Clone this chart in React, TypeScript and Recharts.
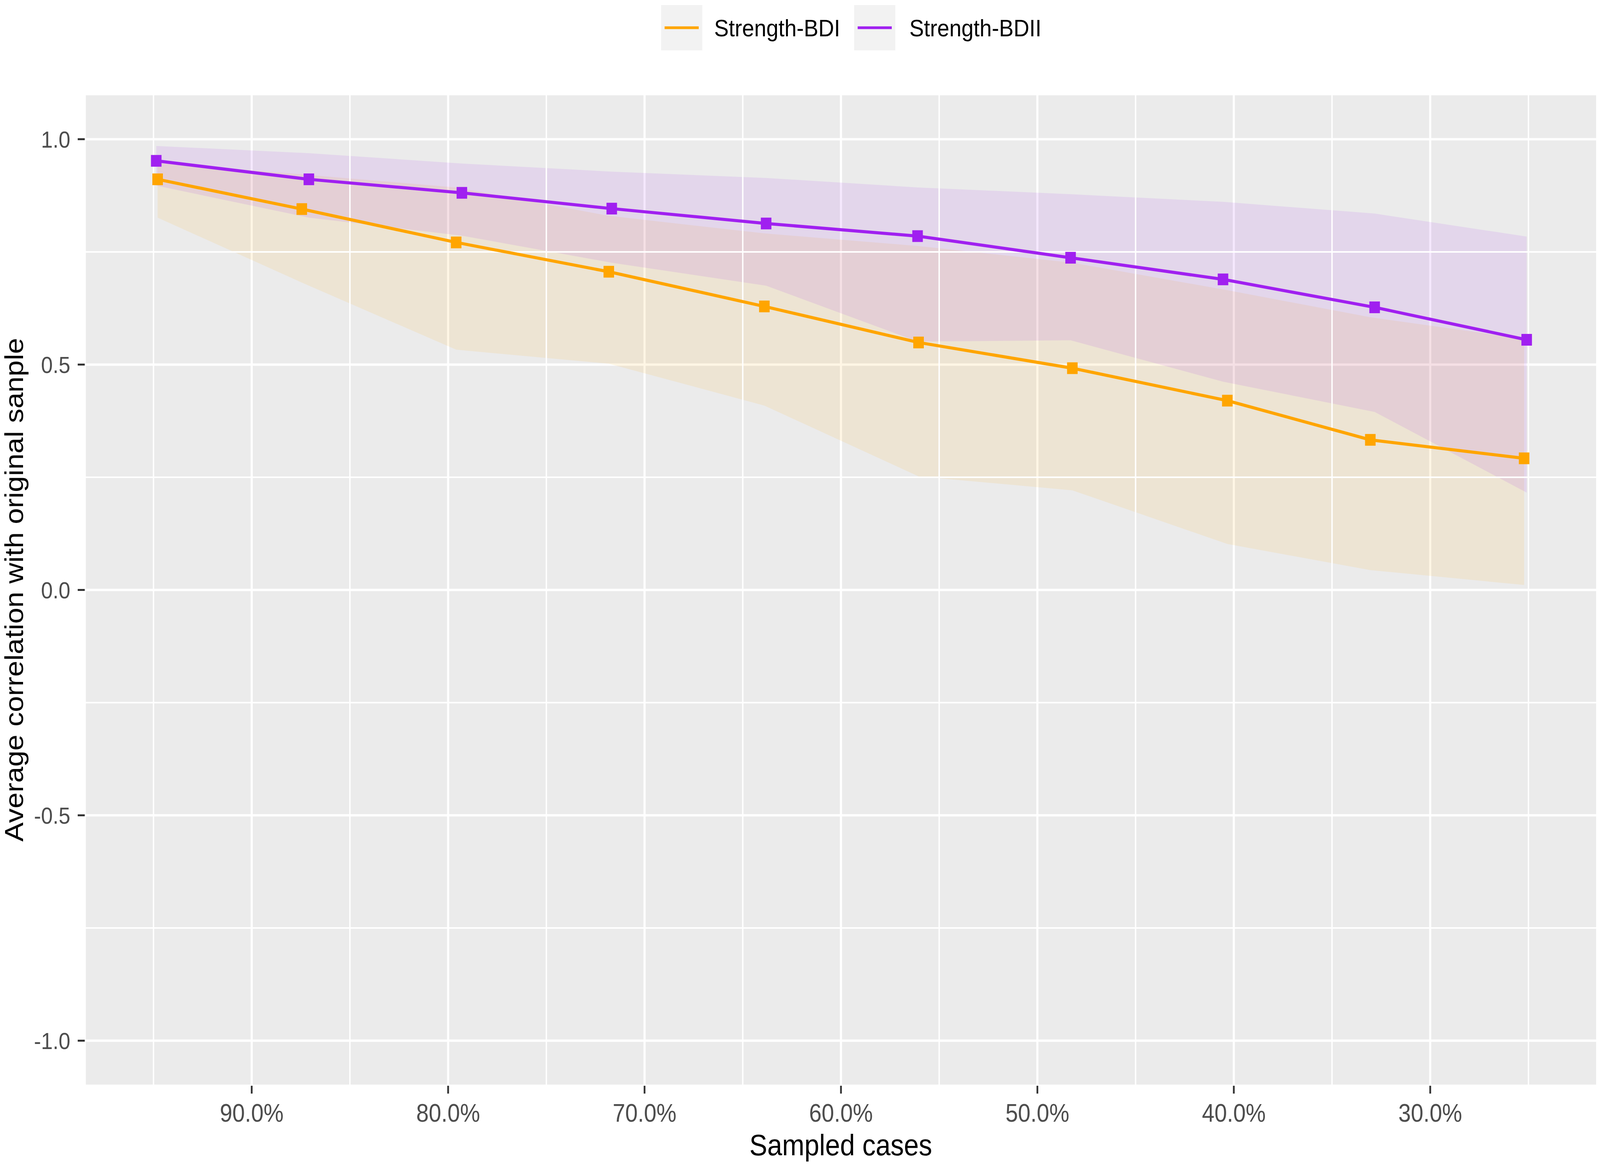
import React from "react";
import { ComposedChart, Line, Area, XAxis, YAxis, CartesianGrid, ReferenceLine } from "recharts";

// sampled share of cases (x) and correlation summaries per series
const sampledBDI = [94.79, 87.45, 79.59, 71.82, 63.9, 56.05, 48.22, 40.33, 33.05, 25.22];
const meanBDI = [0.911, 0.845, 0.771, 0.706, 0.629, 0.549, 0.492, 0.42, 0.333, 0.292];
const lowerBDI = [0.826, 0.682, 0.533, 0.502, 0.409, 0.252, 0.221, 0.102, 0.044, 0.011];
const upperBDI = [0.947, 0.922, 0.893, 0.83, 0.791, 0.763, 0.726, 0.665, 0.605, 0.557];

const sampledBDII = [94.86, 87.09, 79.3, 71.67, 63.81, 56.1, 48.31, 40.55, 32.83, 25.09];
const meanBDII = [0.952, 0.911, 0.881, 0.846, 0.813, 0.785, 0.737, 0.689, 0.627, 0.555];
const lowerBDII = [0.897, 0.826, 0.786, 0.726, 0.675, 0.551, 0.554, 0.462, 0.395, 0.216];
const upperBDII = [0.985, 0.969, 0.946, 0.928, 0.914, 0.893, 0.878, 0.861, 0.835, 0.784];

const xTicks = [90, 80, 70, 60, 50, 40, 30];
const xMinor = [95, 85, 75, 65, 55, 45, 35, 25];
const yTicks = [-1, -0.5, 0, 0.5, 1];
const yMinor = [-0.75, -0.25, 0.25, 0.75];

const ORANGE = "#FFA500";
const PURPLE = "#A020F0";
const FONT = "'Liberation Sans', Arial, sans-serif";

const W = 4550;
const H = 2988;

function build(xs: number[], mean: number[], lo: number[], hi: number[]) {
  return xs.map((x, i) => ({ x, mean: mean[i], band: [lo[i], hi[i]] }));
}

const bdiData = build(sampledBDI, meanBDI, lowerBDI, upperBDI);
const bdiiData = build(sampledBDII, meanBDII, lowerBDII, upperBDII);

const square = (color: string) => (props: any) => {
  const { cx, cy, index } = props;
  if (cx == null || cy == null) return <g key={index} />;
  return <rect key={index} x={cx - 15} y={cy - 15} width={30} height={30} fill={color} />;
};

export default function App() {
  // the browser may give a narrower viewport than the 4550px layout; squeeze to fit
  const sx = typeof window !== "undefined" ? Math.min(1, window.innerWidth / W) : 1;
  return (
    <div
      style={{
        position: "absolute",
        left: 0,
        top: 0,
        width: W,
        height: H,
        background: "#fff",
        transform: `scaleX(${sx})`,
        transformOrigin: "0 0",
      }}
    >
      <ComposedChart width={W} height={H} margin={{ top: 241, right: 8, bottom: 108, left: 41 }}>
        <CartesianGrid fill="#EBEBEB" fillOpacity={1} stroke="#FFFFFF" strokeWidth={6} />
        {xMinor.map((v) => (
          <ReferenceLine key={"xm" + v} x={v} stroke="#FFFFFF" strokeWidth={4} />
        ))}
        {yMinor.map((v) => (
          <ReferenceLine key={"ym" + v} y={v} stroke="#FFFFFF" strokeWidth={4} />
        ))}
        <XAxis
          dataKey="x"
          type="number"
          domain={[21.5, 98.5]}
          reversed
          allowDataOverflow
          ticks={xTicks}
          tickFormatter={(v: number) => v.toFixed(1) + "%"}
          height={100}
          axisLine={false}
          tickSize={20}
          tickMargin={27}
          tickLine={{ stroke: "#333333", strokeWidth: 5 }}
          tick={{ fill: "#4D4D4D", fontSize: 64, fontFamily: FONT }}
        />
        <YAxis
          type="number"
          domain={[-1.1, 1.1]}
          allowDataOverflow
          ticks={yTicks}
          tickFormatter={(v: number) => v.toFixed(1)}
          width={200}
          axisLine={false}
          tickSize={20}
          tickMargin={21}
          tick={{ fill: "#4D4D4D", fontSize: 60, fontFamily: FONT }}
          tickLine={{ stroke: "#333333", strokeWidth: 5 }}
        />
        <Area data={bdiData} dataKey="band" type="linear" fill={ORANGE} fillOpacity={0.1} stroke="none" isAnimationActive={false} />
        <Area data={bdiiData} dataKey="band" type="linear" fill={PURPLE} fillOpacity={0.1} stroke="none" isAnimationActive={false} />
        <Line data={bdiData} dataKey="mean" type="linear" stroke={ORANGE} strokeWidth={8} dot={square(ORANGE)} activeDot={false} isAnimationActive={false} />
        <Line data={bdiiData} dataKey="mean" type="linear" stroke={PURPLE} strokeWidth={8} dot={square(PURPLE)} activeDot={false} isAnimationActive={false} />
      </ComposedChart>
      <svg width={W} height={H} style={{ position: "absolute", left: 0, top: 0, pointerEvents: "none" }}>
        <rect x={1880} y={13} width={117} height={116} fill="#F2F2F2" />
        <line x1={1890} x2={1987} y1={71} y2={71} stroke={ORANGE} strokeWidth={7} />
        <text x={2031} y={93} fontSize={62} fontFamily={FONT} fill="#000">Strength-BDI</text>
        <rect x={2429} y={13} width={117} height={116} fill="#F2F2F2" />
        <line x1={2439} x2={2536} y1={71} y2={71} stroke={PURPLE} strokeWidth={7} />
        <text x={2586} y={93} fontSize={62} fontFamily={FONT} fill="#000">Strength-BDII</text>
        <text x={2391} y={2958} textAnchor="middle" fontSize={76} fontFamily={FONT} fill="#000">Sampled cases</text>
        <text
          x={0}
          y={0}
          transform="translate(66 1510) rotate(-90)"
          textAnchor="middle"
          fontSize={74}
          fontFamily={FONT}
          fill="#000"
        >
          Average correlation with original sanple
        </text>
      </svg>
    </div>
  );
}
